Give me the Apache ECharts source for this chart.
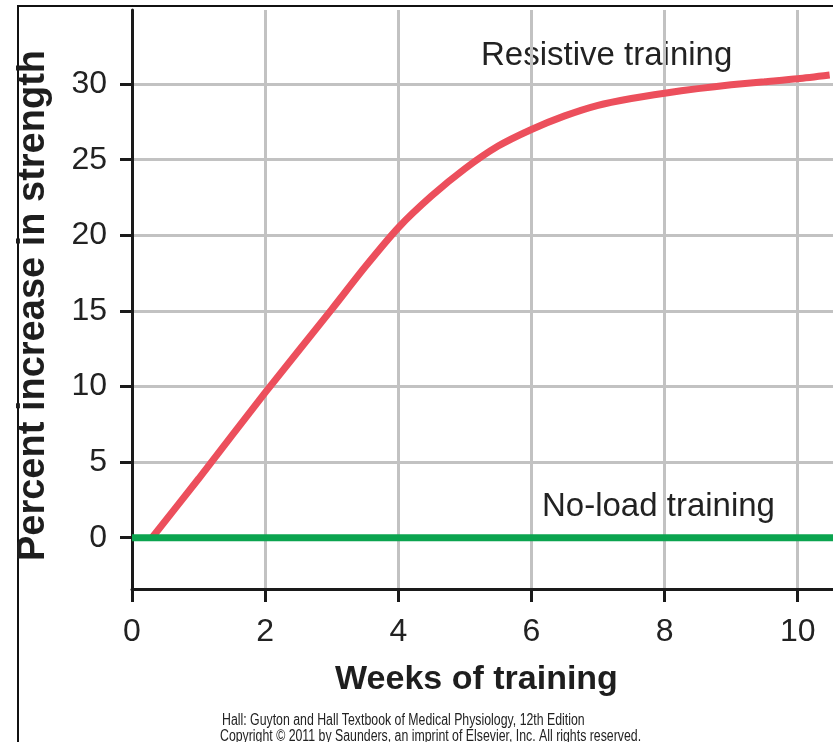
<!DOCTYPE html>
<html>
<head>
<meta charset="utf-8">
<script src="https://cdn.jsdelivr.net/npm/echarts@6/dist/echarts.min.js"></script>
<style>
  html, body { margin: 0; padding: 0; background: #fff; }
  #chart { width: 833px; height: 742px; }
</style>
</head>
<body>
<div id="chart"></div>
<script>
// weeks of training vs percent increase in strength
const resistiveWeeks = [0.3, 1, 2, 3, 3.5, 4, 4.5, 5, 5.5, 6, 6.5, 7, 7.5, 8, 8.5, 9, 9.5, 10, 10.48]
const resistiveGain = [0, 3.9, 9.6, 15.1, 17.9, 20.5, 22.6, 24.4, 25.9, 27.0, 27.9, 28.6, 29.05, 29.4, 29.7, 29.95, 30.15, 30.35, 30.6]
const noLoadWeeks = [0, 10.6]
const noLoadGain = [0, 0]
const xTicks = [0, 2, 4, 6, 8, 10]
const yTicks = [0, 5, 10, 15, 20, 25, 30]

const chart = echarts.init(document.getElementById('chart'))
const font = 'Liberation Sans, Arial, Helvetica, sans-serif'

const option = {
  animation: false,
  grid: { left: 132, right: 0, top: 10, bottom: 153 },
  xAxis: {
    type: 'value',
    min: 0,
    max: 10.53,
    interval: 2,
    name: 'Weeks of training',
    nameLocation: 'middle',
    nameGap: 74,
    nameTextStyle: { fontFamily: font, fontWeight: 'bold', fontSize: 34, color: '#1e1e1e', padding: [0, 12, 0, 0] },
    axisLine: { onZero: false, lineStyle: { color: '#1a1a1a', width: 3 } },
    axisTick: { customValues: xTicks, length: 13, lineStyle: { color: '#1a1a1a', width: 3 } },
    axisLabel: { customValues: xTicks, fontFamily: font, fontSize: 32, color: '#222', margin: 27 },
    splitLine: { show: true, lineStyle: { color: '#c2c2c2', width: 3 } }
  },
  yAxis: {
    type: 'value',
    min: -3.39,
    max: 34.9,
    name: 'Percent increase in strength',
    nameLocation: 'middle',
    nameGap: 79,
    nameTextStyle: { fontFamily: font, fontWeight: 'bold', fontSize: 38, color: '#1e1e1e', padding: [0, 12, 0, 0] },
    axisLine: { onZero: false, lineStyle: { color: '#1a1a1a', width: 3 } },
    axisTick: { customValues: yTicks, length: 12, lineStyle: { color: '#1a1a1a', width: 3 } },
    axisLabel: { customValues: yTicks, fontFamily: font, fontSize: 32, color: '#222', margin: 25 },
    splitLine: { show: true, lineStyle: { color: '#c2c2c2', width: 3 } }
  },
  series: [
    {
      name: 'Resistive training',
      type: 'line',
      data: resistiveWeeks.map((w, i) => [w, resistiveGain[i]]),
      smooth: 0.25,
      showSymbol: false,
      lineStyle: { color: '#ec4f5c', width: 7 },
      z: 3
    },
    {
      name: 'No-load training',
      type: 'line',
      data: noLoadWeeks.map((w, i) => [w, noLoadGain[i]]),
      showSymbol: false,
      lineStyle: { color: '#0ba44f', width: 7 },
      z: 4
    }
  ],
  graphic: [
    {
      type: 'polyline',
      shape: { points: [[18, 742], [18, 6], [840, 6]] },
      style: { stroke: '#111', lineWidth: 2, fill: null }
    },
    {
      type: 'text', x: 481, y: 56,
      style: { text: 'Resistive training', font: '33px ' + font, fill: '#222', textVerticalAlign: 'middle' }
    },
    {
      type: 'text', x: 542, y: 507,
      style: { text: 'No-load training', font: '33px ' + font, fill: '#222', textVerticalAlign: 'middle' }
    },
    {
      type: 'text', x: 222, y: 721, scaleX: 0.77,
      style: { text: 'Hall: Guyton and Hall Textbook of Medical Physiology, 12th Edition', font: '16px ' + font, fill: '#222', textVerticalAlign: 'middle' }
    },
    {
      type: 'text', x: 220, y: 737, scaleX: 0.77,
      style: { text: 'Copyright © 2011 by Saunders, an imprint of Elsevier, Inc. All rights reserved.', font: '16px ' + font, fill: '#222', textVerticalAlign: 'middle' }
    }
  ]
}

chart.setOption(option)
</script>
</body>
</html>
